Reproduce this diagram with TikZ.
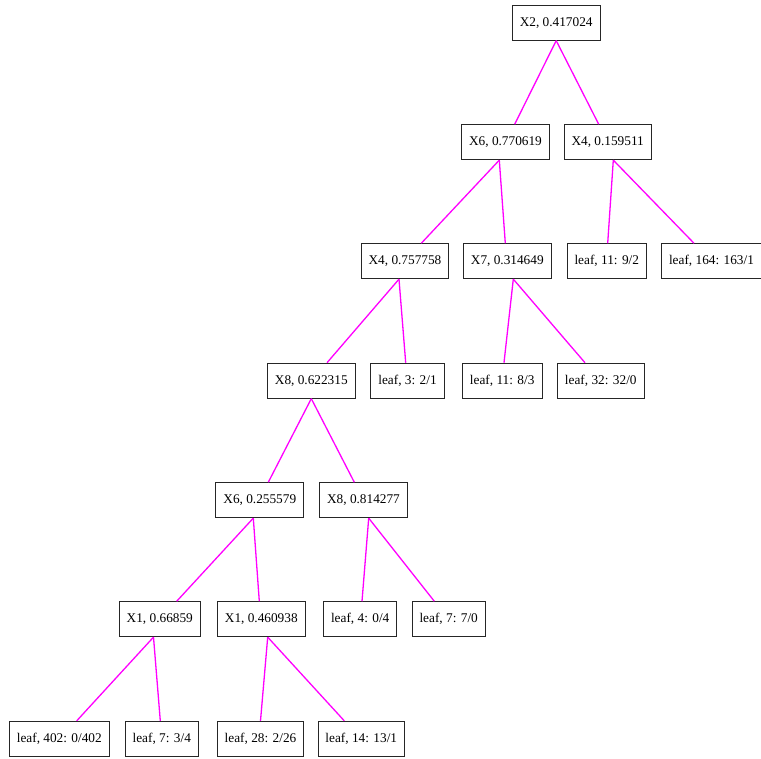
\documentclass[tikz,border=0pt]{standalone}
\usepackage{fontspec}
\setmainfont{Liberation Serif}
\begin{document}
\begin{tikzpicture}[x=1pt,y=-1pt,
  tnode/.style={draw=black!85, line width=0.9pt, minimum height=35pt, inner xsep=7.5pt,
    font=\fontsize{13.3}{16}\selectfont, fill=white},
  edge/.style={draw={rgb,255:red,255;green,0;blue,255}, line width=1.3pt}]
\useasboundingbox (0,0) rectangle (761,759);
% split nodes and leaves
\node[tnode] (root) at (556.2,22.7) {X2, 0.417024};
\node[tnode] (x6a) at (505.5,142.2) {X6, 0.770619};
\node[tnode] (x4a) at (607.7,142.2) {X4, 0.159511};
\node[tnode] (x4b) at (405,261.2) {X4, 0.757758};
\node[tnode] (x7) at (507.3,261.2) {X7, 0.314649};
\node[tnode] (l11a) at (606.8,261.2) {leaf, 11: 9/2};
\node[tnode] (l164) at (711.5,261.2) {leaf, 164: 163/1};
\node[tnode] (x8a) at (311.3,380.7) {X8, 0.622315};
\node[tnode] (l3) at (407.5,380.7) {leaf, 3: 2/1};
\node[tnode] (l11b) at (502.2,380.7) {leaf, 11: 8/3};
\node[tnode] (l32) at (600.8,380.7) {leaf, 32: 32/0};
\node[tnode] (x6b) at (259.8,500.2) {X6, 0.255579};
\node[tnode] (x8b) at (363.5,500.2) {X8, 0.814277};
\node[tnode] (x1a) at (159.8,619.2) {X1, 0.66859};
\node[tnode] (x1b) at (261.3,619.2) {X1, 0.460938};
\node[tnode] (l4) at (360.2,619.2) {leaf, 4: 0/4};
\node[tnode] (l7a) at (448.7,619.2) {leaf, 7: 7/0};
\node[tnode] (l402) at (59.3,738.8) {leaf, 402: 0/402};
\node[tnode] (l7b) at (161.8,738.8) {leaf, 7: 3/4};
\node[tnode] (l28) at (260.5,738.8) {leaf, 28: 2/26};
\node[tnode] (l14) at (361.3,738.8) {leaf, 14: 13/1};
% connectors
\draw[edge] (root.south) -- ([xshift=9.2pt]x6a.north);
\draw[edge] (root.south) -- ([xshift=-9pt]x4a.north);
\draw[edge] ([xshift=-6.2pt]x6a.south) -- ([xshift=16.3pt]x4b.north);
\draw[edge] ([xshift=-6.2pt]x6a.south) -- ([xshift=-2pt]x7.north);
\draw[edge] ([xshift=5.6pt]x4a.south) -- ([xshift=0.9pt]l11a.north);
\draw[edge] ([xshift=5.6pt]x4a.south) -- ([xshift=-17.5pt]l164.north);
\draw[edge] ([xshift=-6pt]x4b.south) -- ([xshift=15.7pt]x8a.north);
\draw[edge] ([xshift=-6pt]x4b.south) -- ([xshift=-1.8pt]l3.north);
\draw[edge] ([xshift=6pt]x7.south) -- ([xshift=1.8pt]l11b.north);
\draw[edge] ([xshift=6pt]x7.south) -- ([xshift=-15.8pt]l32.north);
\draw[edge] (x8a.south) -- ([xshift=8.5pt]x6b.north);
\draw[edge] (x8a.south) -- ([xshift=-9.2pt]x8b.north);
\draw[edge] ([xshift=-6.5pt]x6b.south) -- ([xshift=16.9pt]x1a.north);
\draw[edge] ([xshift=-6.5pt]x6b.south) -- ([xshift=-2pt]x1b.north);
\draw[edge] ([xshift=5.2pt]x8b.south) -- ([xshift=1.8pt]l4.north);
\draw[edge] ([xshift=5.2pt]x8b.south) -- ([xshift=-14.4pt]l7a.north);
\draw[edge] ([xshift=-6.3pt]x1a.south) -- ([xshift=17.4pt]l402.north);
\draw[edge] ([xshift=-6.3pt]x1a.south) -- ([xshift=-1.5pt]l7b.north);
\draw[edge] ([xshift=6.4pt]x1b.south) -- (l28.north);
\draw[edge] ([xshift=6.4pt]x1b.south) -- ([xshift=-17pt]l14.north);
\end{tikzpicture}
\end{document}
